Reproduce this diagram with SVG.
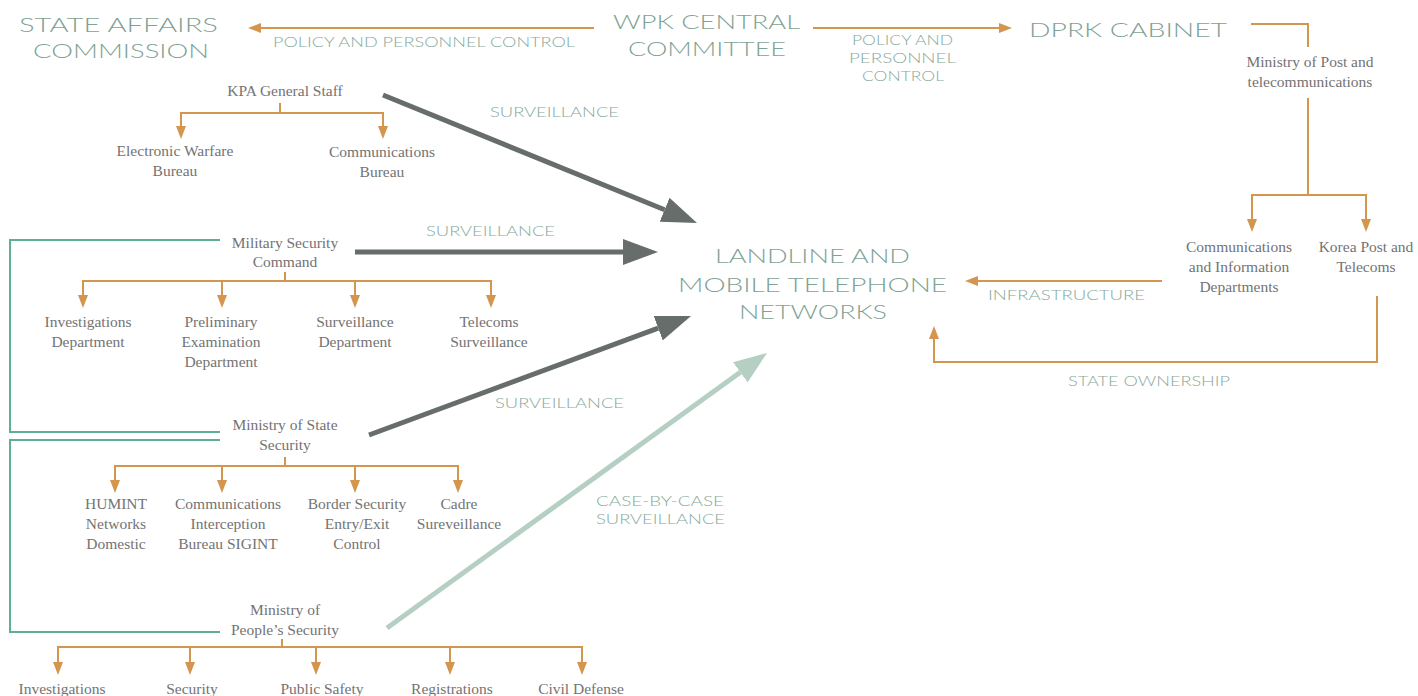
<svg xmlns="http://www.w3.org/2000/svg" width="1418" height="696" viewBox="0 0 1418 696">
<defs>
<style>
.h{font-family:Lato,"Liberation Sans",Arial,sans-serif;font-weight:300;font-size:20px;fill:#7ea293}
.l{font-family:Lato,"Liberation Sans",Arial,sans-serif;font-weight:300;font-size:13.5px;fill:#86a99b}
.b{font-family:"Liberation Serif","Times New Roman",serif;font-size:15.5px;fill:#737373;text-anchor:middle}
.o{fill:none;stroke:#d4954f;stroke-width:2}
.t{fill:none;stroke:#5fae98;stroke-width:2}
.g{fill:none;stroke:#676d6b;stroke-width:5}
.lg{fill:none;stroke:#b5cfc3;stroke-width:5}
</style>
<marker id="ao" markerUnits="userSpaceOnUse" viewBox="0 0 13 10" markerWidth="13" markerHeight="10" refX="0" refY="5" orient="auto"><path d="M0,0 L13,5 L0,10 z" fill="#d4954f"/></marker>
<marker id="ag" markerUnits="userSpaceOnUse" viewBox="0 0 35 26" markerWidth="35" markerHeight="26" refX="0" refY="13" orient="auto"><path d="M0,0 L35,13 L0,26 z" fill="#676d6b"/></marker>
<marker id="al" markerUnits="userSpaceOnUse" viewBox="0 0 33 25" markerWidth="33" markerHeight="25" refX="0" refY="12.5" orient="auto"><path d="M0,0 L33,12.5 L0,25 z" fill="#b5cfc3"/></marker>
</defs>
<rect width="1418" height="696" fill="#ffffff"/>

<g id="connectors">
  <line class="o" x1="594" y1="28" x2="261" y2="28" marker-end="url(#ao)"/>
  <line class="o" x1="813" y1="28" x2="999" y2="28" marker-end="url(#ao)"/>
  <polyline class="o" points="1251,24 1308,24 1308,47"/>
  <line class="o" x1="1308" y1="98" x2="1308" y2="195"/>
  <polyline class="o" points="1252,219 1252,195 1366,195 1366,219"/>
  <line class="o" x1="1252" y1="205" x2="1252" y2="219" marker-end="url(#ao)"/>
  <line class="o" x1="1366" y1="205" x2="1366" y2="219" marker-end="url(#ao)"/>
  <line class="o" x1="1162" y1="281" x2="978" y2="281" marker-end="url(#ao)"/>
  <polyline class="o" points="1377,296 1377,362 934,362 934,339"/>
  <line class="o" x1="934" y1="345" x2="934" y2="339" marker-end="url(#ao)"/>
  <polyline class="o" points="280,103 280,113 181,113 181,126"/>
  <polyline class="o" points="280,113 383,113 383,126"/>
  <line class="o" x1="181" y1="120" x2="181" y2="126" marker-end="url(#ao)"/>
  <line class="o" x1="383" y1="120" x2="383" y2="126" marker-end="url(#ao)"/>
  <line class="o" x1="285" y1="272" x2="285" y2="281"/>
  <polyline class="o" points="83,295 83,281 491,281 491,295"/>
  <line class="o" x1="222" y1="281" x2="222" y2="295"/>
  <line class="o" x1="355" y1="281" x2="355" y2="295"/>
  <line class="o" x1="83" y1="289" x2="83" y2="295" marker-end="url(#ao)"/>
  <line class="o" x1="222" y1="289" x2="222" y2="295" marker-end="url(#ao)"/>
  <line class="o" x1="355" y1="289" x2="355" y2="295" marker-end="url(#ao)"/>
  <line class="o" x1="491" y1="289" x2="491" y2="295" marker-end="url(#ao)"/>
  <line class="o" x1="285" y1="457" x2="285" y2="466"/>
  <polyline class="o" points="115,480 115,466 458,466 458,480"/>
  <line class="o" x1="222" y1="466" x2="222" y2="480"/>
  <line class="o" x1="355" y1="466" x2="355" y2="480"/>
  <line class="o" x1="115" y1="474" x2="115" y2="480" marker-end="url(#ao)"/>
  <line class="o" x1="222" y1="474" x2="222" y2="480" marker-end="url(#ao)"/>
  <line class="o" x1="355" y1="474" x2="355" y2="480" marker-end="url(#ao)"/>
  <line class="o" x1="458" y1="474" x2="458" y2="480" marker-end="url(#ao)"/>
  <line class="o" x1="282" y1="639" x2="282" y2="647"/>
  <polyline class="o" points="58,662 58,647 582,647 582,662"/>
  <line class="o" x1="190" y1="647" x2="190" y2="662"/>
  <line class="o" x1="316" y1="647" x2="316" y2="662"/>
  <line class="o" x1="450" y1="647" x2="450" y2="662"/>
  <line class="o" x1="58" y1="656" x2="58" y2="662" marker-end="url(#ao)"/>
  <line class="o" x1="190" y1="656" x2="190" y2="662" marker-end="url(#ao)"/>
  <line class="o" x1="316" y1="656" x2="316" y2="662" marker-end="url(#ao)"/>
  <line class="o" x1="450" y1="656" x2="450" y2="662" marker-end="url(#ao)"/>
  <line class="o" x1="582" y1="656" x2="582" y2="662" marker-end="url(#ao)"/>
  <polyline class="t" points="220,240 10,240 10,432 220,432"/>
  <polyline class="t" points="220,440 10,440 10,632 220,632"/>
  <line class="g" x1="383" y1="95" x2="664.6" y2="209.8" marker-end="url(#ag)"/>
  <line class="g" x1="355" y1="252" x2="623" y2="252" marker-end="url(#ag)"/>
  <line class="g" x1="369" y1="435" x2="658.2" y2="328.2" marker-end="url(#ag)"/>
  <line class="lg" x1="387" y1="628" x2="740.3" y2="372.3" marker-end="url(#al)"/>
  <text class="l" x="273" y="47" textLength="302" lengthAdjust="spacingAndGlyphs">POLICY AND PERSONNEL CONTROL</text>
  <text class="l" x="852" y="45" textLength="101" lengthAdjust="spacingAndGlyphs">POLICY AND</text>
  <text class="l" x="849" y="63" textLength="107" lengthAdjust="spacingAndGlyphs">PERSONNEL</text>
  <text class="l" x="862" y="81" textLength="82" lengthAdjust="spacingAndGlyphs">CONTROL</text>
  <text class="l" x="490" y="117" textLength="129" lengthAdjust="spacingAndGlyphs">SURVEILLANCE</text>
  <text class="l" x="426" y="236" textLength="129" lengthAdjust="spacingAndGlyphs">SURVEILLANCE</text>
  <text class="l" x="495" y="408" textLength="129" lengthAdjust="spacingAndGlyphs">SURVEILLANCE</text>
  <text class="l" x="596" y="506" textLength="128" lengthAdjust="spacingAndGlyphs">CASE-BY-CASE</text>
  <text class="l" x="596" y="524" textLength="129" lengthAdjust="spacingAndGlyphs">SURVEILLANCE</text>
  <text class="l" x="988" y="300" textLength="157" lengthAdjust="spacingAndGlyphs">INFRASTRUCTURE</text>
  <text class="l" x="1068" y="386" textLength="162" lengthAdjust="spacingAndGlyphs">STATE OWNERSHIP</text>
</g>

<g id="state-affairs-commission">
  <text class="h" x="19" y="32" textLength="199" lengthAdjust="spacingAndGlyphs">STATE AFFAIRS</text>
  <text class="h" x="33" y="58" textLength="176" lengthAdjust="spacingAndGlyphs">COMMISSION</text>
</g>
<g id="wpk-central-committee">
  <text class="h" x="613" y="29" textLength="187" lengthAdjust="spacingAndGlyphs">WPK CENTRAL</text>
  <text class="h" x="628" y="56" textLength="158" lengthAdjust="spacingAndGlyphs">COMMITTEE</text>
</g>
<g id="dprk-cabinet">
  <text class="h" x="1029" y="37" textLength="198" lengthAdjust="spacingAndGlyphs">DPRK CABINET</text>
</g>
<g id="networks">
  <text class="h" x="715" y="263" textLength="195" lengthAdjust="spacingAndGlyphs">LANDLINE AND</text>
  <text class="h" x="678" y="292" textLength="269" lengthAdjust="spacingAndGlyphs">MOBILE TELEPHONE</text>
  <text class="h" x="739" y="319" textLength="148" lengthAdjust="spacingAndGlyphs">NETWORKS</text>
</g>

<g id="ministry-post"><text class="b" x="1310" y="67">Ministry of Post and</text><text class="b" x="1310" y="87">telecommunications</text></g>
<g id="comm-info-dept"><text class="b" x="1239" y="252">Communications</text><text class="b" x="1239" y="272">and Information</text><text class="b" x="1239" y="292">Departments</text></g>
<g id="korea-post"><text class="b" x="1366" y="252">Korea Post and</text><text class="b" x="1366" y="272">Telecoms</text></g>

<g id="kpa-general-staff"><text class="b" x="285" y="96">KPA General Staff</text></g>
<g id="ew-bureau"><text class="b" x="175" y="156">Electronic Warfare</text><text class="b" x="175" y="176">Bureau</text></g>
<g id="comm-bureau"><text class="b" x="382" y="157">Communications</text><text class="b" x="382" y="177">Bureau</text></g>

<g id="msc"><text class="b" x="285" y="248">Military Security</text><text class="b" x="285" y="267">Command</text></g>
<g id="msc-investigations"><text class="b" x="88" y="327">Investigations</text><text class="b" x="88" y="347">Department</text></g>
<g id="msc-preliminary"><text class="b" x="221" y="327">Preliminary</text><text class="b" x="221" y="347">Examination</text><text class="b" x="221" y="367">Department</text></g>
<g id="msc-surveillance"><text class="b" x="355" y="327">Surveillance</text><text class="b" x="355" y="347">Department</text></g>
<g id="msc-telecoms"><text class="b" x="489" y="327">Telecoms</text><text class="b" x="489" y="347">Surveillance</text></g>

<g id="mss"><text class="b" x="285" y="430">Ministry of State</text><text class="b" x="285" y="450">Security</text></g>
<g id="mss-humint"><text class="b" x="116" y="509">HUMINT</text><text class="b" x="116" y="529">Networks</text><text class="b" x="116" y="549">Domestic</text></g>
<g id="mss-sigint"><text class="b" x="228" y="509">Communications</text><text class="b" x="228" y="529">Interception</text><text class="b" x="228" y="549">Bureau SIGINT</text></g>
<g id="mss-border"><text class="b" x="357" y="509">Border Security</text><text class="b" x="357" y="529">Entry/Exit</text><text class="b" x="357" y="549">Control</text></g>
<g id="mss-cadre"><text class="b" x="459" y="509">Cadre</text><text class="b" x="459" y="529">Sureveillance</text></g>

<g id="mps"><text class="b" x="285" y="615">Ministry of</text><text class="b" x="285" y="635">People’s Security</text></g>
<g id="mps-investigations"><text class="b" x="62" y="694">Investigations</text></g>
<g id="mps-security"><text class="b" x="192" y="694">Security</text></g>
<g id="mps-public-safety"><text class="b" x="322" y="694">Public Safety</text></g>
<g id="mps-registrations"><text class="b" x="452" y="694">Registrations</text></g>
<g id="mps-civil-defense"><text class="b" x="581" y="694">Civil Defense</text></g>
</svg>
